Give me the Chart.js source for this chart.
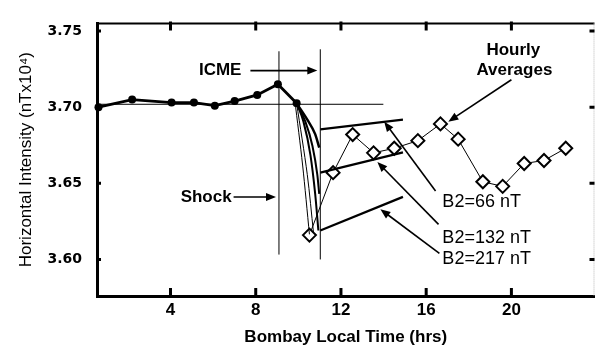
<!DOCTYPE html>
<html lang="en">
    <head>
        <meta charset="UTF-8">
        <title>Horizontal Intensity</title>
        <script src="https://cdn.jsdelivr.net/npm/chart.js"></script>
        <style type="text/css">
            html, body {
                margin: 0;
                padding: 0;
                background: #fff;
            }
            .chart {
                width: 603px;
                height: 348px;
            }
        </style>
    </head>
    <body>
        <div class="chart">
            <canvas id="myChart" width="603" height="348"></canvas>
        </div>
        <script>
        // one-minute samples before the storm (filled circles)
        const hours = [0.62, 2.2, 4.05, 5.1, 6.08, 7.01, 8.07, 9.04, 9.92];
        const intensity = [3.700, 3.705, 3.703, 3.703, 3.701, 3.704, 3.708, 3.715, 3.7025];

        // hourly averages (open diamonds)
        const avgHours = [10.52, 11.63, 12.55, 13.53, 14.5, 15.61, 16.67, 17.5, 18.66, 19.59, 20.6, 21.53, 22.55];
        const avgIntensity = [3.616, 3.657, 3.682, 3.670, 3.673, 3.678, 3.689, 3.679, 3.651, 3.648, 3.663, 3.665, 3.673];

        // model decay curves and recovery lines for the three B2 values
        const drop66Hours = [9.92, 10.42, 10.79, 10.98];
        const drop66 = [3.7025, 3.6918, 3.6823, 3.6734];
        const drop132Hours = [9.92, 10.33, 10.66, 10.89, 10.98];
        const drop132 = [3.7025, 3.6905, 3.6747, 3.6557, 3.643];
        const drop217Hours = [9.92, 10.24, 10.57, 10.79, 10.94];
        const drop217 = [3.7025, 3.6905, 3.6684, 3.643, 3.619];
        const thinAHours = [9.83, 10.2, 10.52];
        const thinA = [3.705, 3.662, 3.6165];
        const thinBHours = [9.92, 10.42, 10.71];
        const thinB = [3.7025, 3.6557, 3.6177];

        const recoveryHours = [11.03, 14.91];
        const rec66 = [3.6854, 3.6918];
        const rec132 = [3.657, 3.6703];
        const rec217 = [3.619, 3.6411];

        // reference lines
        const shockHour = 9.09;
        const shockSpan = [3.6032, 3.7367];
        const icmeHour = 11.03;
        const icmeSpan = [3.600, 3.738];
        const baseLevel = 3.7019;
        const baseSpan = [0.58, 13.99];

        // axes
        const xTicks = [4, 8, 12, 16, 20];
        const yTicks = [3.60, 3.65, 3.70, 3.75];

        // labels and arrows, in data units
        const labels = [
            {text: 'ICME', x: 7.33, y: 3.724, align: 'right', bold: true},
            {text: 'Shock', x: 6.87, y: 3.641, align: 'right', bold: true},
            {text: 'Hourly', x: 20.09, y: 3.737, align: 'center', bold: true},
            {text: 'Averages', x: 20.14, y: 3.724, align: 'center', bold: true},
            {text: 'B2=66 nT', x: 16.76, y: 3.638, align: 'left', bold: false},
            {text: 'B2=132 nT', x: 16.76, y: 3.614, align: 'left', bold: false},
            {text: 'B2=217 nT', x: 16.76, y: 3.6006, align: 'left', bold: false}
        ];
        const arrows = [
            {from: [7.75, 3.724], to: [10.89, 3.724]},
            {from: [6.96, 3.641], to: [8.95, 3.641]},
            {from: [20.0, 3.718], to: [17.04, 3.6905]},
            {from: [16.44, 3.645], to: [14.03, 3.6905]},
            {from: [16.58, 3.623], to: [13.71, 3.664]},
            {from: [16.62, 3.604], to: [13.85, 3.633]}
        ];

        function pts(xs, ys) {
            return xs.map((x, i) => ({x: x, y: ys[i]}));
        }
        function line(data, width, extra) {
            return Object.assign({
                data: data,
                showLine: true,
                borderColor: '#000',
                borderWidth: width,
                pointRadius: 0,
                fill: false,
                clip: false
            }, extra || {});
        }

        const decor = {
            id: 'decor',
            beforeDatasetsDraw(chart) {
                const ctx = chart.ctx;
                const a = chart.chartArea;
                const xs = chart.scales.x, ys = chart.scales.y;
                ctx.save();
                // top and right frame
                ctx.strokeStyle = '#000';
                ctx.lineWidth = 2;
                ctx.beginPath();
                ctx.moveTo(a.left, a.top);
                ctx.lineTo(a.right, a.top);
                ctx.stroke();
                ctx.strokeStyle = '#bbb';
                ctx.lineWidth = 1;
                ctx.setLineDash([1, 1]);
                ctx.beginPath();
                ctx.moveTo(a.right - 0.5, a.top);
                ctx.lineTo(a.right - 0.5, a.bottom);
                ctx.stroke();
                ctx.setLineDash([]);
                // inward tick marks on all four sides
                ctx.strokeStyle = '#000';
                ctx.lineWidth = 3;
                xTicks.forEach(v => {
                    const px = xs.getPixelForValue(v);
                    ctx.beginPath();
                    ctx.moveTo(px, a.bottom + 1);
                    ctx.lineTo(px, a.bottom - 8);
                    ctx.moveTo(px, a.top - 2);
                    ctx.lineTo(px, a.top + 7);
                    ctx.stroke();
                });
                yTicks.forEach(v => {
                    const py = ys.getPixelForValue(v);
                    ctx.beginPath();
                    ctx.moveTo(a.left - 1, py);
                    ctx.lineTo(a.left + 4, py);
                    ctx.moveTo(a.right - 5, py);
                    ctx.lineTo(a.right, py);
                    ctx.stroke();
                });
                ctx.restore();
            },
            afterDatasetsDraw(chart) {
                const ctx = chart.ctx;
                const xs = chart.scales.x, ys = chart.scales.y;
                ctx.save();
                ctx.strokeStyle = '#000';
                ctx.fillStyle = '#000';
                ctx.lineWidth = 1.6;
                arrows.forEach(ar => {
                    const x0 = xs.getPixelForValue(ar.from[0]), y0 = ys.getPixelForValue(ar.from[1]);
                    const x1 = xs.getPixelForValue(ar.to[0]), y1 = ys.getPixelForValue(ar.to[1]);
                    const ang = Math.atan2(y1 - y0, x1 - x0);
                    const len = 10, half = 4;
                    ctx.beginPath();
                    ctx.moveTo(x0, y0);
                    ctx.lineTo(x1 - Math.cos(ang) * len * 0.8, y1 - Math.sin(ang) * len * 0.8);
                    ctx.stroke();
                    ctx.beginPath();
                    ctx.moveTo(x1, y1);
                    ctx.lineTo(x1 - Math.cos(ang) * len - Math.sin(ang) * half, y1 - Math.sin(ang) * len + Math.cos(ang) * half);
                    ctx.lineTo(x1 - Math.cos(ang) * len + Math.sin(ang) * half, y1 - Math.sin(ang) * len - Math.cos(ang) * half);
                    ctx.closePath();
                    ctx.fill();
                });
                ctx.textBaseline = 'middle';
                labels.forEach(l => {
                    ctx.font = (l.bold ? 'bold 17px' : '18px') + ' "Liberation Sans", Arial, sans-serif';
                    ctx.textAlign = l.align;
                    ctx.fillText(l.text, xs.getPixelForValue(l.x), ys.getPixelForValue(l.y));
                });
                ctx.restore();
            }
        };

        const data = {
            datasets: [
                line([{x: shockHour, y: shockSpan[0]}, {x: shockHour, y: shockSpan[1]}], 1),
                line([{x: icmeHour, y: icmeSpan[0]}, {x: icmeHour, y: icmeSpan[1]}], 1),
                line([{x: baseSpan[0], y: baseLevel}, {x: baseSpan[1], y: baseLevel}], 1),
                line(pts(thinAHours, thinA), 1, {tension: 0.3}),
                line(pts(thinBHours, thinB), 1, {tension: 0.3}),
                line(pts(drop66Hours, drop66), 2.5, {cubicInterpolationMode: 'monotone'}),
                line(pts(drop132Hours, drop132), 2, {cubicInterpolationMode: 'monotone'}),
                line(pts(drop217Hours, drop217), 2, {cubicInterpolationMode: 'monotone'}),
                line(pts(recoveryHours, rec66), 2.2),
                line(pts(recoveryHours, rec132), 2.2),
                line(pts(recoveryHours, rec217), 2.2),
                line(pts(avgHours, avgIntensity), 1, {
                    pointStyle: 'rectRot',
                    pointRadius: 6.5,
                    pointBorderWidth: 2,
                    pointBorderColor: '#000',
                    pointBackgroundColor: '#fff'
                }),
                line(pts(hours, intensity), 2.8, {
                    pointStyle: 'circle',
                    pointRadius: 4,
                    pointBorderWidth: 0,
                    pointBackgroundColor: '#000'
                })
            ]
        };

        const config = {
            type: 'scatter',
            data: data,
            options: {
                responsive: false,
                animation: false,
                events: [],
                layout: {padding: {top: 13, right: 3, left: 0, bottom: 0}},
                plugins: {
                    legend: {display: false},
                    tooltip: {enabled: false}
                },
                scales: {
                    x: {
                        type: 'linear',
                        min: 0.55,
                        max: 23.9,
                        afterBuildTicks: s => { s.ticks = xTicks.map(v => ({value: v})); },
                        afterFit: s => { s.height = 52; },
                        grid: {display: false, drawTicks: false, tickLength: 0},
                        border: {display: true, color: '#000', width: 3},
                        ticks: {
                            color: '#000',
                            padding: 4,
                            maxRotation: 0,
                            font: {family: '"Liberation Sans", Arial, sans-serif', size: 17, weight: 'bold'}
                        },
                        title: {
                            display: true,
                            text: 'Bombay Local Time (hrs)',
                            color: '#000',
                            padding: {top: 0, bottom: 0},
                            font: {family: '"Liberation Sans", Arial, sans-serif', size: 17, weight: 'bold'}
                        }
                    },
                    y: {
                        type: 'linear',
                        min: 3.576,
                        max: 3.755,
                        afterBuildTicks: s => { s.ticks = yTicks.map(v => ({value: v})); },
                        afterFit: s => { s.width = 97; },
                        grid: {display: false, drawTicks: false, tickLength: 0},
                        border: {display: true, color: '#000', width: 3},
                        ticks: {
                            color: '#000',
                            padding: 15,
                            callback: v => v.toFixed(2),
                            font: {family: '"DejaVu Sans", sans-serif', size: 14, weight: 'bold'}
                        },
                        title: {
                            display: true,
                            text: 'Horizontal Intensity (nTx10\u2074)',
                            color: '#000',
                            padding: {top: 16, bottom: 0},
                            font: {family: '"Liberation Sans", Arial, sans-serif', size: 17}
                        }
                    }
                }
            },
            plugins: [decor]
        };
        const myChart = new Chart(document.getElementById('myChart'), config);
        </script>
    </body>
</html>
